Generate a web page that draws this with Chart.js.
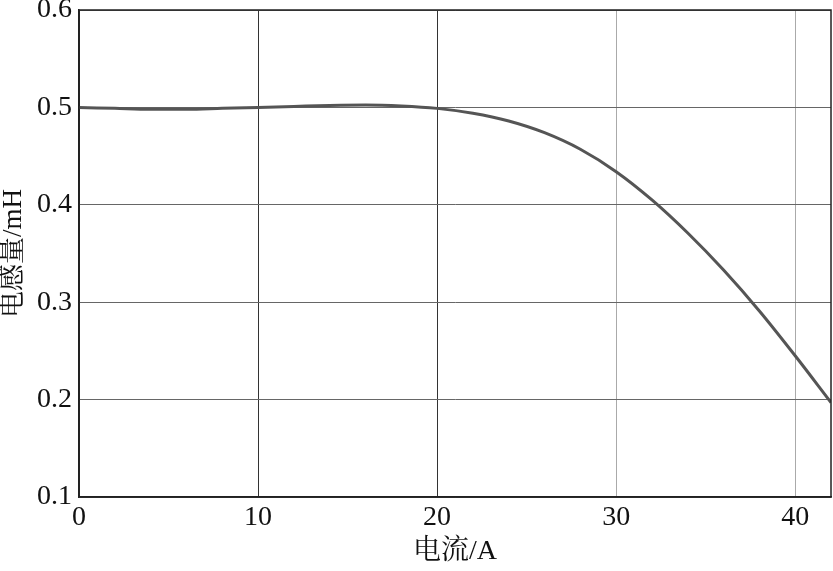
<!DOCTYPE html>
<html>
<head>
<meta charset="utf-8">
<script src="https://cdn.jsdelivr.net/npm/chart.js@4"></script>
<style>
  html, body { margin: 0; padding: 0; background: #fff; }
  #wrap { width: 833px; height: 571px; }
</style>
</head>
<body>
<div id="wrap"><canvas id="lChart"></canvas></div>
<script>
// datos
const corriente = [0, 2, 4, 6, 8, 10, 12, 14, 16, 18, 20, 22, 24, 26, 28, 30, 32, 34, 36, 38, 40, 42];
const inductancia = [0.500, 0.499, 0.498, 0.498, 0.499, 0.500, 0.501, 0.502, 0.5025, 0.5015, 0.499,
    0.494, 0.486, 0.474, 0.457, 0.434, 0.405, 0.371, 0.333, 0.291, 0.245, 0.197];
const xTicks = [0, 10, 20, 30, 40];
const yTicks = [0.1, 0.2, 0.3, 0.4, 0.5, 0.6];

const serif = "'Liberation Serif', 'Noto Serif CJK SC', 'Noto Sans CJK SC', serif";

// marco alrededor del área de la gráfica
const marco = {
    id: 'marco',
    afterDraw(chart) {
        const { ctx, chartArea: a } = chart;
        ctx.save();
        ctx.strokeStyle = '#222';
        ctx.lineWidth = 1.5;
        ctx.strokeRect(a.left, a.top, a.right - a.left, a.bottom - a.top);
        ctx.restore();
    }
};

const ctx = document.getElementById('lChart').getContext('2d');
new Chart(ctx, {
    type: 'line',
    data: {
        datasets: [{
            data: corriente.map((x, i) => ({ x: x, y: inductancia[i] })),
            borderColor: '#555',
            borderWidth: 3,
            pointRadius: 0,
            cubicInterpolationMode: 'monotone',
            fill: false
        }]
    },
    options: {
        responsive: true,
        maintainAspectRatio: false,
        animation: false,
        layout: { padding: { top: 10, right: 2, left: 0, bottom: 0 } },
        plugins: {
            legend: { display: false },
            tooltip: { enabled: false }
        },
        scales: {
            x: {
                type: 'linear',
                min: 0,
                max: 42,
                afterBuildTicks: s => { s.ticks = xTicks.map(v => ({ value: v })); },
                afterFit: s => { s.height = 74; s.paddingLeft = 0; s.paddingRight = 0; },
                grid: {
                    color: c => (c.tick && c.tick.value >= 30 ? '#aaa' : '#333'),
                    lineWidth: 1,
                    drawTicks: false
                },
                border: { color: '#222', width: 1.5 },
                ticks: {
                    color: '#111',
                    padding: 6,
                    font: { family: serif, size: 28, lineHeight: 1.05 }
                },
                title: {
                    display: true,
                    text: '电流/A',
                    color: '#111',
                    padding: { top: 0, bottom: 4 },
                    font: { family: serif, size: 28, lineHeight: 1.1 }
                }
            },
            y: {
                type: 'linear',
                min: 0.1,
                max: 0.6,
                afterBuildTicks: s => { s.ticks = yTicks.map(v => ({ value: v })); },
                afterFit: s => { s.width = 79; s.paddingTop = 0; s.paddingBottom = 0; },
                grid: {
                    color: '#666',
                    lineWidth: 1,
                    drawTicks: false
                },
                border: { color: '#222', width: 1.5 },
                ticks: {
                    color: '#111',
                    padding: 7,
                    font: { family: serif, size: 28 },
                    callback: v => v.toFixed(1)
                },
                title: {
                    display: true,
                    text: '电感量/mH',
                    color: '#111',
                    padding: { top: 0, bottom: 0 },
                    font: { family: serif, size: 27, lineHeight: 1.0 }
                }
            }
        }
    },
    plugins: [marco]
});
</script>
</body>
</html>
